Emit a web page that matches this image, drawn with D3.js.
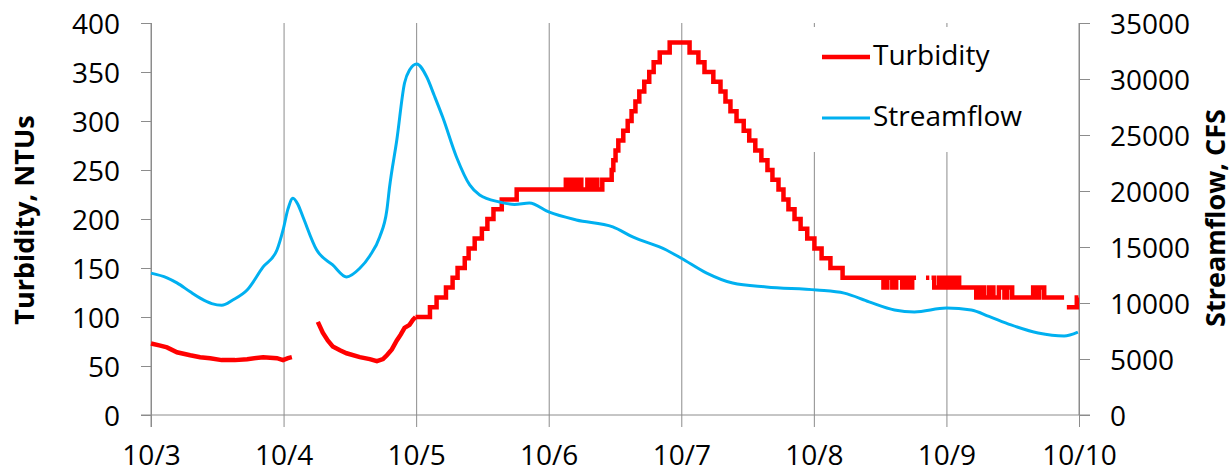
<!DOCTYPE html>
<html>
<head>
<meta charset="utf-8">
<script src="https://cdn.jsdelivr.net/npm/d3@7"></script>
<style>
  body { margin: 0; background: #fff; }
  svg { display: block; }
  text { font-family: "Open Sans", sans-serif; fill: #000; }
</style>
</head>
<body>
<svg id="chart" width="1232" height="472"></svg>
<script>
// hours after 10/3 00:00, NTU (null = gap in record)
var turbEarly = [
    [0, 73], [1.5, 71], [2.9, 69], [4.7, 64], [7.1, 61], [8.9, 59], [10.7, 58],
    [12.8, 56], [15.2, 56], [17.4, 57], [20.3, 59], [22.8, 58], [23.9, 56],
    [24.8, 58], [25.5, 59], [25.5, null],
    [30.2, 95], [31.1, 84], [32.0, 76], [32.9, 70], [34.2, 66], [35.4, 63],
    [37.8, 59], [39.6, 57], [40.9, 55], [42.0, 57], [42.7, 61], [43.6, 67],
    [44.5, 76], [45.2, 82], [45.9, 89], [46.8, 92], [47.4, 97], [47.9, 100]
];

// hours after 10/3 00:00, NTU level that starts at that hour
var turbSteps = [
    [47.9, 100], [50.5, 110], [51.7, 120], [53.4, 130], [54.6, 140], [55.5, 150],
    [56.8, 160], [57.5, 170], [58.6, 180], [59.9, 190], [60.9, 200], [62.0, 210],
    [63.5, 220], [66.2, 230],
    [75.1, 240], [75.6, 230], [76.1, 240], [76.7, 230], [77.2, 240], [77.9, 230],
    [79.0, 240], [79.6, 230], [80.1, 240], [80.8, 230], [81.7, 240],
    [83.4, 250], [83.7, 260], [84.1, 270], [84.6, 280], [85.5, 290], [86.3, 300],
    [87.0, 310], [87.7, 320], [88.4, 330], [89.3, 340], [90.2, 350], [91.0, 360],
    [92.1, 370], [93.9, 380],
    [97.5, 370], [99.1, 360], [100.2, 350], [101.8, 340], [103.1, 330], [104.0, 320],
    [104.9, 310], [106.0, 300], [107.3, 290], [108.3, 280], [109.4, 270], [110.5, 260],
    [111.6, 250], [112.5, 240], [113.6, 230], [114.5, 220], [115.4, 210], [116.5, 200],
    [117.6, 190], [118.8, 180], [120.1, 170], [121.4, 160], [123.0, 150], [125.2, 140],
    [132.6, 130], [133.3, 140], [134.2, 130], [134.9, 140], [136.0, 130], [136.5, 140],
    [137.3, 130], [137.8, 140], [138.5, 140], [138.5, null],
    [140.3, 140], [140.9, 140], [140.9, null],
    [141.3, 140], [141.8, 130], [142.7, 140], [143.4, 130], [144.1, 140], [144.9, 130],
    [145.6, 140], [146.3, 130],
    [149.4, 120], [150.1, 130], [150.8, 120], [151.7, 130], [152.5, 120], [153.5, 130],
    [154.5, 120], [155.0, 130], [155.9, 120],
    [159.7, 130], [160.2, 120], [160.8, 130], [161.7, 120], [165.3, 120], [165.3, null],
    [165.8, 110], [167.6, 120], [167.9, 120]
];

// hours after 10/3 00:00, CFS
var streamflow = [
    [0, 12670], [2.9, 12250], [4.7, 11800], [7.1, 11000], [8.9, 10440], [11.0, 9950],
    [12.8, 9800], [14.8, 10270], [17.4, 11160], [20.3, 13220], [22.8, 14730],
    [23.9, 16500], [24.8, 18400], [25.7, 19360], [26.6, 18800], [27.5, 17700],
    [30.0, 14730], [32.9, 13400], [35.4, 12330], [37.8, 13100], [39.6, 14200],
    [41.4, 15900], [42.7, 18300], [43.2, 20400], [44.5, 24550], [45.9, 29640],
    [46.8, 30800], [48.1, 31340], [49.9, 30200], [51.3, 28500], [52.8, 26600],
    [55.3, 23040], [57.7, 20540], [59.5, 19640], [63.1, 19020], [65.8, 18800],
    [68.5, 18930], [72.0, 18130], [77.0, 17410], [83.6, 16800], [87.2, 15900],
    [93.3, 14730], [96.0, 14000], [100.6, 12670], [105.3, 11780], [111.4, 11430],
    [120.5, 11160], [125.5, 10880], [130.0, 10100], [134.6, 9380], [138.2, 9200],
    [144.0, 9550], [148.5, 9380], [151.7, 8800], [155.7, 8040], [160.6, 7320],
    [165.3, 7050], [167.8, 7400]
];

var startDate = new Date(2015, 9, 3);
var endDate = new Date(2015, 9, 10);
var turbDomain = [0, 400];
var flowDomain = [0, 35000];
var seriesNames = ["Turbidity", "Streamflow"];
var seriesColors = ["#ff0000", "#00b0f0"];

var margin = { left: 151, right: 153, top: 23, bottom: 57 };
var width = 1232 - margin.left - margin.right;
var height = 472 - margin.top - margin.bottom;
var axisColor = "#8c8c8c";

function toDate(h) { return new Date(startDate.getTime() + h * 3600000); }

var svg = d3.select("#chart");
var g = svg.append("g").attr("transform", "translate(" + margin.left + "," + margin.top + ")");

var x = d3.scaleTime().domain([startDate, endDate]).range([0, width]);
var yL = d3.scaleLinear().domain(turbDomain).range([height, 0]);
var yR = d3.scaleLinear().domain(flowDomain).range([height, 0]);

var days = d3.timeDay.range(startDate, d3.timeDay.offset(endDate, 1));

// vertical gridlines
g.append("g")
    .attr("class", "grid")
    .attr("transform", "translate(0," + height + ")")
    .call(d3.axisBottom(x).tickValues(days).tickSize(-height).tickFormat(""))
    .call(function(s) {
        s.select(".domain").remove();
        s.selectAll("line").attr("stroke", axisColor);
    });

// x axis
g.append("g")
    .attr("transform", "translate(0," + height + ")")
    .call(d3.axisBottom(x).tickValues(days).tickSize(12).tickFormat(d3.timeFormat("%-m/%-d")))
    .call(function(s) {
        s.select(".domain").remove();
        s.selectAll("line").attr("stroke", axisColor);
        s.selectAll("text").attr("y", 50).attr("dy", null)
            .style("font-size", "28px").style("font-family", null);
    });
g.append("line")
    .attr("x1", -10).attr("x2", width + 11)
    .attr("y1", height).attr("y2", height)
    .attr("stroke", axisColor);

// left axis
g.append("g")
    .call(d3.axisLeft(yL).ticks(8).tickSize(10).tickPadding(21))
    .call(function(s) {
        s.select(".domain").attr("d", "M0,0V" + (height + 12));
        s.selectAll("path,line").attr("stroke", axisColor);
        s.selectAll("text").attr("dy", "0.36em")
            .style("font-size", "28px").style("font-family", null);
    });

// right axis
g.append("g")
    .attr("transform", "translate(" + width + ",0)")
    .call(d3.axisRight(yR).ticks(7).tickSize(11).tickPadding(20).tickFormat(d3.format("d")))
    .call(function(s) {
        s.select(".domain").attr("d", "M0,0V" + height);
        s.selectAll("path,line").attr("stroke", axisColor);
        s.selectAll("text").attr("dy", "0.36em")
            .style("font-size", "28px").style("font-family", null);
    });

// axis titles
svg.append("text")
    .attr("transform", "translate(34," + (margin.top + height / 2 + 1) + ") rotate(-90)")
    .attr("text-anchor", "middle")
    .style("font-size", "27px").style("font-weight", "bold")
    .text("Turbidity, NTUs");
svg.append("text")
    .attr("transform", "translate(1225," + (margin.top + height / 2 - 1) + ") rotate(-90)")
    .attr("text-anchor", "middle")
    .style("font-size", "27px").style("font-weight", "bold")
    .text("Streamflow, CFS");

// lines
var defined = function(d) { return d[1] != null; };

var flowLine = d3.line()
    .defined(defined)
    .x(function(d) { return x(toDate(d[0])); })
    .y(function(d) { return yR(d[1]); })
    .curve(d3.curveMonotoneX);

var turbLine = d3.line()
    .defined(defined)
    .x(function(d) { return x(toDate(d[0])); })
    .y(function(d) { return yL(d[1]); });

var turbStepLine = d3.line()
    .defined(defined)
    .x(function(d) { return x(toDate(d[0])); })
    .y(function(d) { return yL(d[1]); })
    .curve(d3.curveStepAfter);

// legend box (hides gridlines behind it)
g.append("rect")
    .attr("x", 655).attr("y", 4)
    .attr("width", 262).attr("height", 125)
    .attr("fill", "#fff");

g.append("path")
    .datum(turbEarly)
    .attr("fill", "none")
    .attr("stroke", seriesColors[0])
    .attr("stroke-width", 4.5)
    .attr("d", turbLine);

g.append("path")
    .datum(turbSteps)
    .attr("fill", "none")
    .attr("stroke", seriesColors[0])
    .attr("stroke-width", 4.5)
    .attr("stroke-linejoin", "miter")
    .attr("d", turbStepLine);

g.append("path")
    .datum(streamflow)
    .attr("fill", "none")
    .attr("stroke", seriesColors[1])
    .attr("stroke-width", 3)
    .attr("d", flowLine);

// legend
var legend = svg.append("g").attr("transform", "translate(822,57)");
var item = legend.selectAll("g.item")
    .data(seriesNames)
    .enter().append("g")
    .attr("class", "item")
    .attr("transform", function(d, i) { return "translate(0," + (i * 61) + ")"; });
item.append("line")
    .attr("x1", 0).attr("x2", 48)
    .attr("stroke", function(d, i) { return seriesColors[i]; })
    .attr("stroke-width", function(d, i) { return i == 0 ? 4.5 : 3; });
item.append("text")
    .attr("x", 51).attr("y", 8)
    .style("font-size", "28px")
    .text(function(d) { return d; });
</script>
</body>
</html>
